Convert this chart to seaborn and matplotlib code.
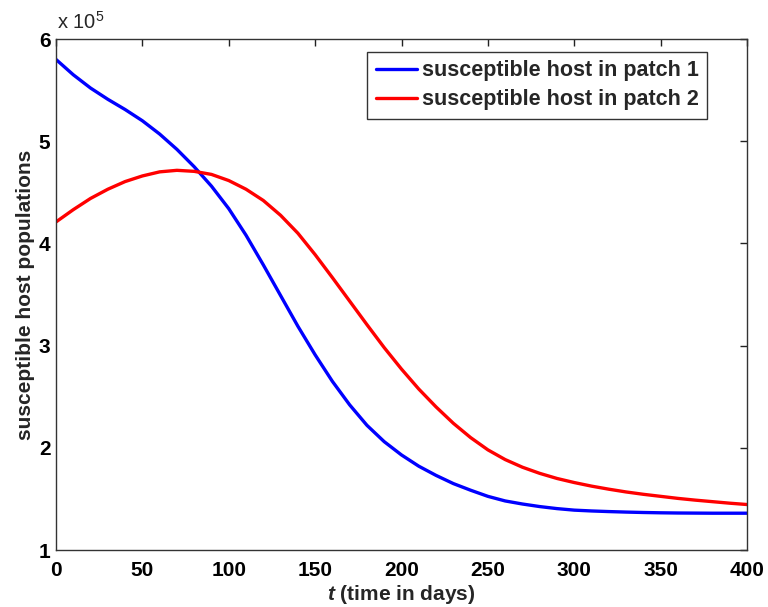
import numpy as np
import pandas as pd
import matplotlib
matplotlib.use("Agg")
import matplotlib.pyplot as plt
import seaborn as sns
from matplotlib.ticker import FuncFormatter

# Data (populations in units of 1e5)
t_days = [0, 10, 20, 30, 40, 50, 60, 70, 80, 90, 100, 110, 120, 130, 140, 150,
          160, 170, 180, 190, 200, 210, 220, 230, 240, 250, 260, 270, 280, 290,
          300, 310, 320, 330, 340, 350, 360, 370, 380, 390, 400]
s_patch1 = [5.80, 5.65, 5.52, 5.41, 5.31, 5.20, 5.07, 4.92, 4.75, 4.56, 4.34, 4.08,
            3.79, 3.49, 3.19, 2.91, 2.65, 2.42, 2.22, 2.06, 1.93, 1.82, 1.73, 1.65,
            1.585, 1.525, 1.48, 1.45, 1.425, 1.405, 1.39, 1.382, 1.376, 1.371, 1.367,
            1.364, 1.362, 1.361, 1.36, 1.36, 1.36]
s_patch2 = [4.21, 4.33, 4.44, 4.53, 4.605, 4.66, 4.70, 4.715, 4.705, 4.675, 4.615, 4.53,
            4.42, 4.275, 4.10, 3.89, 3.665, 3.435, 3.205, 2.98, 2.77, 2.575, 2.40, 2.24,
            2.10, 1.98, 1.885, 1.81, 1.75, 1.70, 1.66, 1.625, 1.595, 1.568, 1.545,
            1.525, 1.505, 1.488, 1.473, 1.458, 1.445]

series_names = ["susceptible host in patch 1", "susceptible host in patch 2"]
series_colors = ["#0000ff", "#ff0000"]
x_ticks = [0, 50, 100, 150, 200, 250, 300, 350, 400]
y_ticks = [1, 2, 3, 4, 5, 6]
scale = 1e5

df = pd.concat([
    pd.DataFrame({"t": t_days, "S": np.array(s_patch1) * scale, "series": series_names[0]}),
    pd.DataFrame({"t": t_days, "S": np.array(s_patch2) * scale, "series": series_names[1]}),
])

sns.set_style("white")
plt.rcParams["font.family"] = ["Liberation Sans", "DejaVu Sans"]
plt.rcParams["mathtext.fontset"] = "custom"
plt.rcParams["mathtext.it"] = "Liberation Sans:italic:bold"
plt.rcParams["mathtext.rm"] = "Liberation Sans"
plt.rcParams["mathtext.bf"] = "Liberation Sans:bold"

FS = 15

fig = plt.figure(figsize=(7.68, 6.07), dpi=100)
ax = fig.add_axes([56 / 768, 1 - 550 / 607, 691 / 768, 511 / 607])

sns.lineplot(data=df, x="t", y="S", hue="series", palette=dict(zip(series_names, series_colors)),
             linewidth=2.4, ax=ax, sort=True, estimator=None)
for ln in ax.get_lines():
    ln.set_solid_joinstyle("round")

ax.set_xlim(0, 400)
ax.set_ylim(1 * scale, 6 * scale)
ax.set_xticks(x_ticks)
ax.set_yticks([v * scale for v in y_ticks])
ax.yaxis.set_major_formatter(FuncFormatter(lambda v, p: f"{v / scale:g}"))
ax.tick_params(direction="in", length=5, width=1, top=True, right=True,
               labelsize=FS, colors="#222222", labelcolor="black")
ax.tick_params(axis="x", pad=8)
ax.tick_params(axis="y", pad=4)
for lab in ax.get_xticklabels() + ax.get_yticklabels():
    lab.set_fontweight("bold")
for sp in ax.spines.values():
    sp.set_visible(True)
    sp.set_linewidth(1.0)
    sp.set_color("#333333")

ax.set_xlabel("$t$ (time in days)", fontsize=FS, fontweight="bold", labelpad=2)
ax.set_ylabel("susceptible host populations", fontsize=FS, fontweight="bold", labelpad=3)
ax.text(0.001, 1.012, "x 10$^{5}$", transform=ax.transAxes, fontsize=14.5,
        fontweight="normal", ha="left", va="bottom")

leg = ax.legend(loc="upper right", bbox_to_anchor=(651 / 691, 498 / 511), fontsize=15.5,
                frameon=True, fancybox=False, edgecolor="#333333", framealpha=1,
                handlelength=1.9, handletextpad=0.25, borderpad=0.38, labelspacing=0.38,
                borderaxespad=0)
leg.get_frame().set_linewidth(1.0)
for txt in leg.get_texts():
    txt.set_fontweight("bold")
for line in leg.get_lines():
    line.set_linewidth(2.4)

fig.savefig("out.png", dpi=100)
